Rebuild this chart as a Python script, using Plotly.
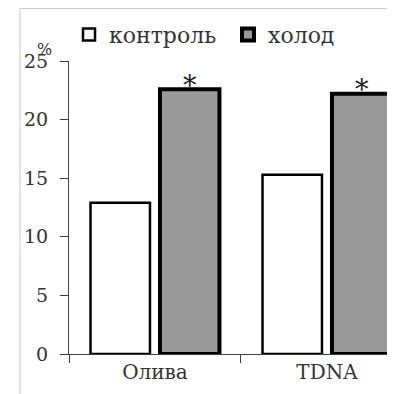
import plotly.graph_objects as go

categories = ["Олива", "TDNA"]
control_values = [12.9, 15.3]
cold_values = [22.6, 22.2]
series_names = ["контроль", "холод"]
y_ticks = [0, 5, 10, 15, 20, 25]
marks = ["*", "*"]

FONT = "DejaVu Serif"
TXT = "#333333"
AX = "#404040"

fig = go.Figure()
fig.add_trace(go.Bar(
    x=categories, y=control_values, name=series_names[0],
    marker=dict(color="white", line=dict(color="black", width=2.5)),
))
fig.add_trace(go.Bar(
    x=categories, y=cold_values, name=series_names[1],
    marker=dict(color="#999999", line=dict(color="black", width=4)),
))

bargap = 0.192
offset = (1 - bargap) / 4
for i, (v, m) in enumerate(zip(cold_values, marks)):
    fig.add_annotation(x=i + offset, y=v, xref="x", yref="y", text=m,
                       showarrow=False, yanchor="middle", yshift=4,
                       font=dict(family=FONT, size=27, color="#222222"))

fig.add_annotation(x=-0.072, y=1.038, xref="paper", yref="paper", text="%",
                   showarrow=False, xanchor="center", yanchor="middle",
                   font=dict(family=FONT, size=16, color=TXT))

# outer frame lines
fig.add_shape(type="line", xref="paper", yref="paper", x0=-0.1467, x1=1.0,
              y0=1.179, y1=1.179, line=dict(color="#c8c8c8", width=1))
fig.add_shape(type="line", xref="paper", yref="paper", x0=-0.1467, x1=-0.1467,
              y0=1.179, y1=-0.17, line=dict(color="#c8c8c8", width=1))

fig.update_layout(
    width=395, height=394,
    margin=dict(l=61, r=0, t=53, b=48, autoexpand=False),
    paper_bgcolor="white", plot_bgcolor="white",
    barmode="group", bargap=bargap, bargroupgap=0.144,
    font=dict(family=FONT, size=19, color=TXT),
    showlegend=True,
    legend=dict(orientation="h", x=0.0, xanchor="left", y=1.09, yanchor="middle",
                font=dict(family=FONT, size=22, color=TXT),
                entrywidth=114, entrywidthmode="pixels",
                bgcolor="rgba(0,0,0,0)"),
    xaxis=dict(type="category", range=[-0.5, 1.442], showline=True, linecolor=AX,
               linewidth=1, ticks="outside", tickson="boundaries", ticklen=8,
               tickcolor=AX, showgrid=False, tickfont=dict(size=20)),
    yaxis=dict(range=[0, 25], tickvals=y_ticks, showline=True, linecolor=AX,
               linewidth=1, ticks="outside", ticklen=8, tickcolor=AX,
               ticklabelstandoff=8,
               showgrid=False, zeroline=False, tickfont=dict(size=19)),
)

fig.write_html("out.html")
